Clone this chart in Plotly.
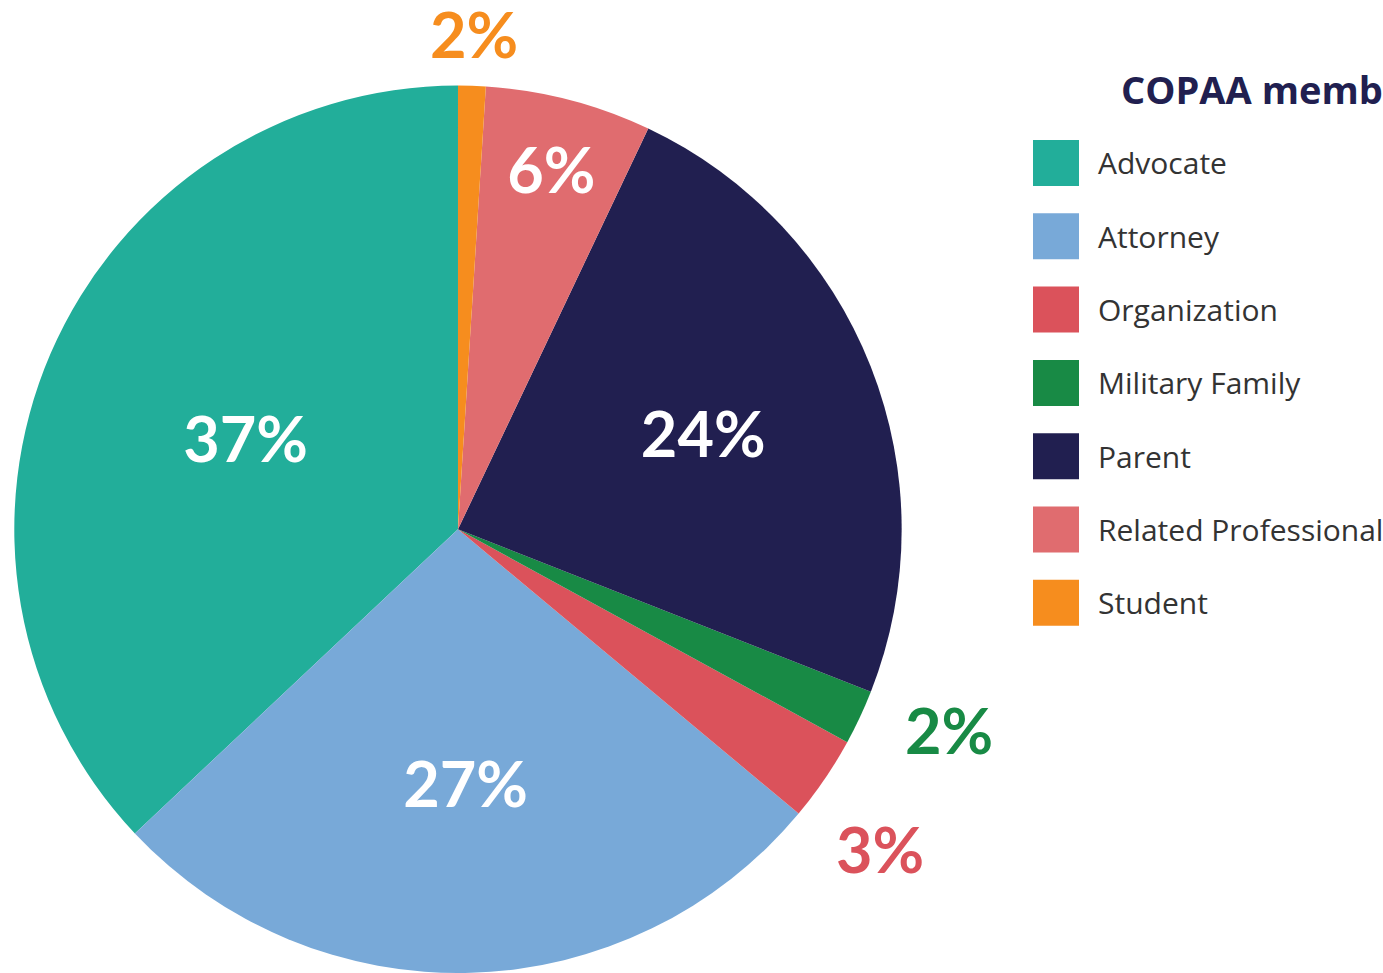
import math
import plotly.graph_objects as go

categories = ["Advocate", "Attorney", "Organization", "Military Family", "Parent", "Related Professional", "Student"]
values = [37.0, 26.9, 3.1, 2.0, 23.9, 6.05, 1.0]
pct_labels = ["37%", "27%", "3%", "2%", "24%", "6%", "2%"]
colors = ["#22AE9A", "#78A9D8", "#DB525B", "#188A45", "#211F50", "#E06C6F", "#F68D1E"]
label_inside = [True, True, False, False, True, True, False]
legend_title = "COPAA members"

W, H = 1383, 973
DOM_X = [0.0101, 0.6522]
DOM_Y = [0.0, 0.912]
LABEL_FONT = dict(family="Lato", size=63, weight="bold")

# plotly puts the first slice clockwise of 12 o'clock when direction is counterclockwise;
# rotate so the first slice begins at 12 o'clock and runs counterclockwise
total = sum(values)
first_angle = 360.0 * values[0] / total

fig = go.Figure(go.Pie(
    labels=categories,
    values=values,
    text=[t if ins else "" for t, ins in zip(pct_labels, label_inside)],
    textinfo="text",
    textposition=["inside" if ins else "none" for ins in label_inside],
    textfont=dict(color="#FFFFFF", **LABEL_FONT),
    insidetextorientation="horizontal",
    marker=dict(colors=colors, line=dict(width=0)),
    sort=False,
    direction="counterclockwise",
    rotation=-first_angle,
    showlegend=False,
    domain=dict(x=DOM_X, y=DOM_Y),
    hoverinfo="label+percent",
))

annotations = []

# outside labels for the small slices, placed at each slice's mid angle just outside the rim
cx_px = W * (DOM_X[0] + DOM_X[1]) / 2
cy_px = H * (1 - (DOM_Y[0] + DOM_Y[1]) / 2)
r_px = min(W * (DOM_X[1] - DOM_X[0]), H * (DOM_Y[1] - DOM_Y[0])) / 2
gap = 25
min_sep = 15.0  # minimum angular separation between neighbouring outside labels

outside = []
cum = 0.0
for v, t, col, ins in zip(values, pct_labels, colors, label_inside):
    start = cum
    cum += v
    if not ins:
        outside.append([-360.0 * (start + v / 2) / total, t, col])
# spread neighbouring labels apart
for a, b in zip(outside[:-1], outside[1:]):
    diff = abs(a[0] - b[0])
    if diff < min_sep:
        push = (min_sep - diff) / 2
        if a[0] > b[0]:
            a[0] += push
            b[0] -= push
        else:
            a[0] -= push
            b[0] += push

for mid, t, col in outside:
    th = math.radians(mid)
    half_w = 0.45 * LABEL_FONT["size"] * len(t)
    half_h = 0.40 * LABEL_FONT["size"]
    d = r_px + gap + half_w * abs(math.sin(th)) + half_h * abs(math.cos(th))
    px = cx_px + d * math.sin(th)
    py = cy_px - d * math.cos(th)
    annotations.append(dict(
        x=px / W, y=1 - py / H, xref="paper", yref="paper",
        text=t, showarrow=False, xanchor="center", yanchor="middle",
        font=dict(color=col, **LABEL_FONT),
    ))

# manual legend
sw = 46
x0 = 1033
y_first = 163
step = 73.3
shapes = []
annotations.append(dict(
    x=1119 / W, y=1 - 89 / H, xref="paper", yref="paper",
    text="<b>" + legend_title + "</b>", showarrow=False,
    xanchor="left", yanchor="middle",
    font=dict(family="Open Sans", size=38, color="#211F50"),
))
for i, (cat, col) in enumerate(zip(categories, colors)):
    yc = y_first + i * step
    shapes.append(dict(
        type="rect", xref="paper", yref="paper",
        x0=x0 / W, x1=(x0 + sw) / W,
        y0=1 - (yc + sw / 2) / H, y1=1 - (yc - sw / 2) / H,
        fillcolor=col, line=dict(width=0),
    ))
    annotations.append(dict(
        x=1096 / W, y=1 - yc / H, xref="paper", yref="paper",
        text=cat, showarrow=False, xanchor="left", yanchor="middle",
        font=dict(family="Open Sans", size=30, color="#333333"),
    ))

fig.update_layout(
    width=W, height=H,
    margin=dict(l=0, r=0, t=0, b=0, autoexpand=False),
    paper_bgcolor="white",
    plot_bgcolor="white",
    uniformtext=dict(minsize=63, mode="show"),
    shapes=shapes,
    annotations=annotations,
)

fig.write_html("out.html", config={"displayModeBar": False},
               post_script="document.body.style.margin='0';")
